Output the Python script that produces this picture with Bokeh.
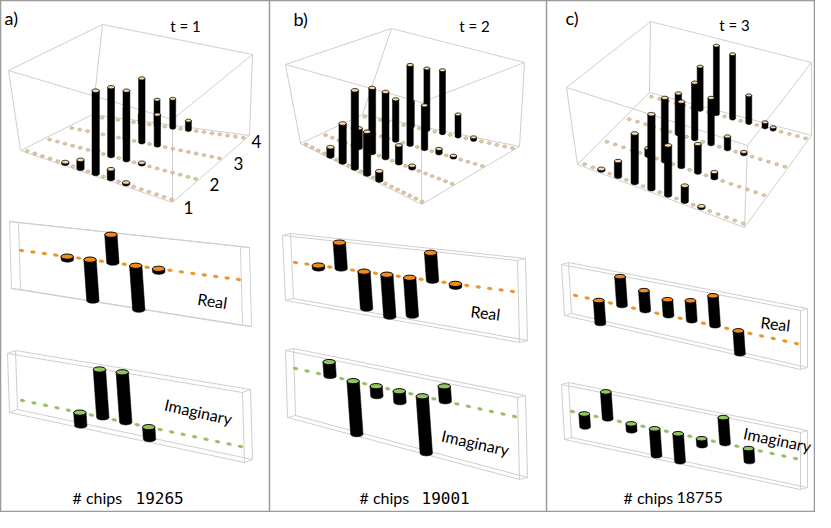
import math
from bokeh.plotting import figure
from bokeh.models import Range1d
from bokeh.embed import file_html
from bokeh.resources import INLINE
from bokeh.core.properties import value

# ---------------- data ----------------
N_POS = 20
N_ROWS = 4
ROW_LABELS = ["1", "2", "3", "4"]
PANEL_LETTERS = ["a)", "b)", "c)"]
TIME_LABELS = ["t = 1", "t = 2", "t = 3"]
SERIES_NAMES = ["Real", "Imaginary"]
CHIPS_LABEL = "# chips"
CHIPS = ["19265", "19001", "18755"]

# 3D bars (row, position, height as fraction of box height)
A3_ROW = [1, 1, 1, 1, 1, 2, 2, 2, 2, 3, 3, 3, 4, 4, 4, 4]
A3_POS = [5, 7, 9, 11, 13, 6, 8, 10, 12, 7, 9, 11, 6, 8, 10, 12]
A3_H = [0.02, 0.11, 1.02, 0.12, 0.02, 0.02, 0.83, 0.84, 0.02, 0.36, 0.76, 0.37, 0.10, 0.30, 0.34, 0.11]

B3_ROW = [1, 1, 1, 1, 1, 2, 2, 2, 2, 2, 3, 3, 3, 3, 3, 4, 4, 4, 4, 4]
B3_POS = [4, 6, 8, 10, 12, 5, 7, 9, 11, 13, 7, 9, 11, 13, 15, 6, 8, 10, 12, 14]
B3_H = [0.11, 0.45, 0.88, 0.47, 0.10, 0.23, 0.75, 0.75, 0.20, 0.03, 0.48, 0.92, 0.50, 0.05, 0.02, 0.30, 0.72, 0.74, 0.26, 0.03]

C3_ROW = [1, 1, 1, 1, 1, 1, 1, 2, 2, 2, 2, 2, 3, 3, 3, 3, 3, 4, 4, 4, 4, 4, 4]
C3_POS = [2, 4, 6, 8, 10, 12, 14, 5, 7, 9, 11, 13, 6, 8, 10, 12, 14, 6, 8, 10, 12, 14, 15]
C3_H = [0.02, 0.20, 0.63, 0.95, 0.63, 0.20, 0.02, 0.10, 0.83, 0.85, 0.37, 0.08, 0.55, 0.76, 0.62, 0.17, 0.03, 0.60, 0.95, 0.89, 0.38, 0.07, 0.03]

# Real / Imaginary amplitudes (position, value)
RE_POS_A = [4, 6, 8, 10, 12]
RE_A = [-0.06, -0.82, 0.56, -0.88, -0.06]
IM_POS_A = [5, 7, 9, 11]
IM_A = [-0.26, 0.96, 1.00, -0.24]

RE_POS_B = [2, 4, 6, 8, 10, 12, 14]
RE_B = [-0.06, 0.52, -0.74, -0.84, -0.76, 0.56, -0.06]
IM_POS_B = [3, 5, 7, 9, 11, 13]
IM_B = [0.28, -1.06, -0.20, -0.22, -1.14, 0.30]

RE_POS_C = [2, 4, 6, 8, 10, 12, 14]
RE_C = [-0.46, 0.58, 0.40, 0.32, 0.40, 0.60, -0.46]
IM_POS_C = [1, 3, 5, 7, 9, 11, 13, 15]
IM_C = [-0.26, 0.54, -0.14, -0.54, -0.56, -0.14, 0.52, -0.26]

# ---------------- layout (pixel geometry of each panel) ----------------
BOX3D = [
    dict(FL=(28, 158), FR=(180, 210), BL=(100, 122), BR=(257, 143),
         TFL=(16, 78), TFR=(180, 127), TBL=(110, 32), TBR=(260, 62)),
    dict(FL=(308, 151), FR=(429, 212), BL=(370, 122), BR=(527, 154),
         TFL=(293, 72), TFR=(429, 110), TBL=(399, 36), TBR=(532, 70)),
    dict(FL=(585, 172), FR=(752, 235), BL=(657, 100), BR=(819, 143),
         TFL=(574, 95), TFR=(755, 153), TBL=(658, 29), TBR=(819, 70)),
]
RE_BOX = [
    dict(A=[(17, 229), (248, 254), (250, 333), (19, 296)], d=(9, 1), base=((29, 258), (246, 287)), rx=6.2),
    dict(A=[(290, 243), (525, 268), (527, 350), (293, 308)], d=(8, -2), base=((303, 270), (520, 299)), rx=6.2),
    dict(A=[(569, 272), (808, 318), (808, 377), (572, 323)], d=(7, -2), base=((583, 303), (804, 351)), rx=5.4),
]
IM_BOX = [
    dict(A=[(15, 361), (250, 400), (252, 470), (17, 420)], d=(8, -3), base=((30, 408), (248, 454)), rx=6.2),
    dict(A=[(293, 358), (525, 405), (527, 487), (295, 425)], d=(8, -2), base=((303, 376), (522, 424)), rx=6.2),
    dict(A=[(569, 392), (808, 440), (808, 497), (572, 447)], d=(7, -2), base=((580, 419), (803, 466)), rx=5.4),
]
C0, CS, R0, RS = 0.03, 0.05, 0.03, 0.31
AMP_SCALE = 50.0
SLANT = 0.07

EDGE = "#cfcfcf"
FRAME = "#9a9a9a"
TOP_CAP = "#fbd9a9"
TOP_DOT = "#e8cc9c"
RE_CAP = "#f28a1c"
RE_DOT = "#ef9330"
IM_CAP = "#93c55d"
IM_DOT = "#98c066"
FONT = "Lato"

p = figure(width=815, height=512, x_range=Range1d(8, 823), y_range=Range1d(520, 8),
           output_backend="svg", toolbar_location=None, min_border=0,
           x_axis_location=None, y_axis_location=None)
p.grid.visible = False
p.outline_line_color = FRAME
p.outline_line_width = 1.5
p.background_fill_color = "white"


def lerp(a, b, t):
    return (a[0] + (b[0] - a[0]) * t, a[1] + (b[1] - a[1]) * t)


def floor_pt(box, c, r):
    return lerp(lerp(box["FL"], box["FR"], c), lerp(box["BL"], box["BR"], c), r)


def vert(box, c, r):
    hf = lerp((box["FL"][1] - box["TFL"][1], 0), (box["FR"][1] - box["TFR"][1], 0), c)[0]
    hb = lerp((box["BL"][1] - box["TBL"][1], 0), (box["BR"][1] - box["TBR"][1], 0), c)[0]
    return hf + (hb - hf) * r


def proj(box, c, r, z):
    x, y = floor_pt(box, c, r)
    return (x, y - z * vert(box, c, r))


def ell(cx, cy, rx, ry, ang=0.0, n=20):
    xs, ys = [], []
    ca, sa = math.cos(ang), math.sin(ang)
    for i in range(n):
        t = 2 * math.pi * i / n
        ex, ey = rx * math.cos(t), ry * math.sin(t)
        xs.append(cx + ex * ca - ey * sa)
        ys.append(cy + ex * sa + ey * ca)
    return xs, ys


def cylinder(top, bot, rx, ry):
    xs = [top[0] - rx, bot[0] - rx]
    ys = [top[1], bot[1]]
    n = 12
    for i in range(n + 1):
        th = math.pi - math.pi * i / n
        xs.append(bot[0] + rx * math.cos(th))
        ys.append(bot[1] + ry * math.sin(th))
    xs.append(top[0] + rx)
    ys.append(top[1])
    return xs, ys


# frame separators
p.segment(x0=[277, 554], y0=[8, 8], x1=[277, 554], y1=[520, 520], line_color=FRAME, line_width=1.5)

# ---------- 3D panels ----------
panels3 = [(A3_ROW, A3_POS, A3_H), (B3_ROW, B3_POS, B3_H), (C3_ROW, C3_POS, C3_H)]
for box, (rows, poss, hs) in zip(BOX3D, panels3):
    ex, ey = [], []
    pairs = [("FL", "FR"), ("FR", "BR"), ("BR", "BL"), ("BL", "FL"),
             ("TFL", "TFR"), ("TFR", "TBR"), ("TBR", "TBL"), ("TBL", "TFL"),
             ("FL", "TFL"), ("FR", "TFR"), ("BR", "TBR"), ("BL", "TBL")]
    for a, b in pairs:
        ex.append([box[a][0], box[b][0]])
        ey.append([box[a][1], box[b][1]])
    p.multi_line(ex, ey, line_color=EDGE, line_width=1)
    dx, dy = [], []
    for row in range(1, N_ROWS + 1):
        for k in range(N_POS):
            x, y = proj(box, C0 + k * CS, R0 + (row - 1) * RS, 0)
            e = ell(x, y, 2.0, 1.5, n=10)
            dx.append(e[0]); dy.append(e[1])
    p.patches(dx, dy, fill_color=TOP_DOT, line_color="#a39274", line_width=0.5)
    items = []
    for row, k, h in zip(rows, poss, hs):
        c, r = C0 + k * CS, R0 + (row - 1) * RS
        b = proj(box, c, r, 0)
        t = proj(box, c, r, h)
        items.append((b[1], b, t, r))
    items.sort(key=lambda it: it[0])
    xs, ys, fc, lw = [], [], [], []
    for _, b, t, r in items:
        s = 1 - 0.2 * r
        rx, ry = 3.7 * s, 1.8 * s
        cx, cy = cylinder(t, b, rx, ry)
        xs.append(cx); ys.append(cy); fc.append("black"); lw.append(0.5)
        ex_, ey_ = ell(t[0], t[1], rx, ry)
        xs.append(ex_); ys.append(ey_); fc.append(TOP_CAP); lw.append(0.8)
    p.patches(xs, ys, fill_color=fc, line_color="black", line_width=lw)


# ---------- Real / Imaginary panels ----------
def draw_amp(bx, poss, vals, cap, dot):
    A = bx["A"]
    d = bx["d"]
    B = [(x + d[0], y + d[1]) for x, y in A]
    ex, ey = [], []
    for i in range(4):
        j = (i + 1) % 4
        ex.append([A[i][0], A[j][0]]); ey.append([A[i][1], A[j][1]])
        ex.append([B[i][0], B[j][0]]); ey.append([B[i][1], B[j][1]])
        ex.append([A[i][0], B[i][0]]); ey.append([A[i][1], B[i][1]])
    p.multi_line(ex, ey, line_color=EDGE, line_width=1)
    b0, b1 = bx["base"]
    ang = math.atan2(b1[1] - b0[1], b1[0] - b0[0])
    dx, dy = [], []
    for k in range(N_POS):
        x, y = lerp(b0, b1, k / (N_POS - 1))
        e = ell(x, y, 2.6, 1.5, ang=ang, n=12)
        dx.append(e[0]); dy.append(e[1])
    p.patches(dx, dy, fill_color=dot, line_color=dot, line_width=0.3)
    xs, ys, fc, lw = [], [], [], []
    rx = bx["rx"]
    ry = rx * 0.42
    for k, v in zip(poss, vals):
        x, y = lerp(b0, b1, k / (N_POS - 1))
        yt = min(y, y - v * AMP_SCALE)
        yb = max(y, y - v * AMP_SCALE)
        top = (x + SLANT * (yt - y), yt)
        bot = (x + SLANT * (yb - y), yb)
        cx, cy = cylinder(top, bot, rx, ry)
        xs.append(cx); ys.append(cy); fc.append("black"); lw.append(0.5)
        e = ell(top[0], top[1], rx, ry)
        xs.append(e[0]); ys.append(e[1]); fc.append(cap); lw.append(1.0)
    p.patches(xs, ys, fill_color=fc, line_color="black", line_width=lw)


amp_data = [((RE_POS_A, RE_A), (IM_POS_A, IM_A)),
            ((RE_POS_B, RE_B), (IM_POS_B, IM_B)),
            ((RE_POS_C, RE_C), (IM_POS_C, IM_C))]
for i, ((rp, rv), (ip, iv)) in enumerate(amp_data):
    draw_amp(RE_BOX[i], rp, rv, RE_CAP, RE_DOT)
    draw_amp(IM_BOX[i], ip, iv, IM_CAP, IM_DOT)

# ---------- texts ----------
p.text(x=[12, 301, 573], y=[25, 26, 25], text=PANEL_LETTERS, text_font=value(FONT),
       text_font_size="18px", text_align="left", text_baseline="middle", text_color="black")
p.text(x=[193, 482, 742], y=[33, 33, 32], text=TIME_LABELS, text_font=value(FONT),
       text_font_size="15px", text_align="center", text_baseline="middle", text_color="black")
p.text(x=[196, 222, 246, 264], y=[215, 192, 171, 149], text=ROW_LABELS, text_font=value(FONT),
       text_font_size="17px", text_align="center", text_baseline="middle", text_color="black")
p.text(x=[220, 493, 783], y=[308, 320, 331], text=[SERIES_NAMES[0]] * 3, text_font=value(FONT),
       text_font_size="16px", text_align="center", text_baseline="middle", angle=[-0.15, -0.12, -0.12])
p.text(x=[206, 483, 785], y=[419, 450, 447], text=[SERIES_NAMES[1]] * 3, text_font=value(FONT),
       text_font_size="16px", text_align="center", text_baseline="middle", angle=[-0.22, -0.22, -0.2])
p.text(x=[80, 367, 631], y=[505, 505, 505], text=[CHIPS_LABEL] * 3, text_font=value(FONT),
       text_font_size="16px", text_align="left", text_baseline="middle")
p.text(x=[143, 429], y=[505, 505], text=CHIPS[:2], text_font=value("DejaVu Sans Mono"),
       text_font_size="16px", text_align="left", text_baseline="middle")
p.text(x=[684], y=[505], text=CHIPS[2:], text_font=value(FONT),
       text_font_size="16px", text_align="left", text_baseline="middle")

open("out.html", "w").write(file_html(p, INLINE))
